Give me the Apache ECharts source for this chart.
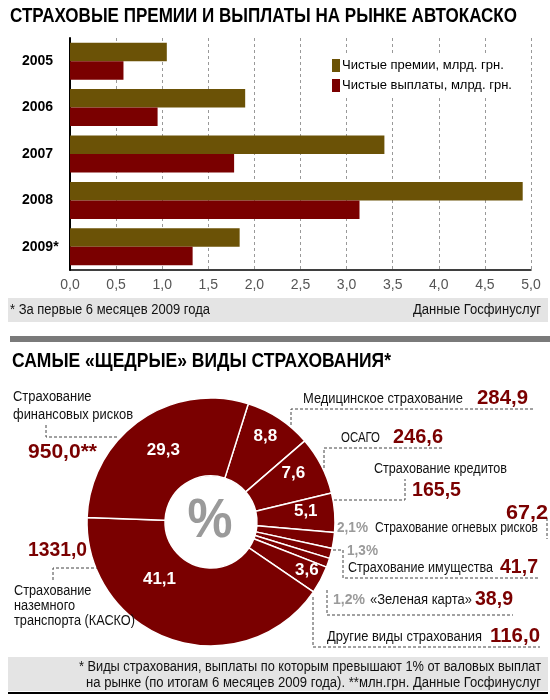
<!DOCTYPE html>
<html>
<head>
<meta charset="utf-8">
<script src="https://cdn.jsdelivr.net/npm/echarts@6/dist/echarts.min.js"></script>
<style>
  html, body { margin: 0; padding: 0; background: #fff; }
  #chart { width: 550px; height: 700px; }
</style>
</head>
<body>
<div id="chart"></div>
<script>
// --- данные: премии и выплаты автокаско, млрд. грн.
var years = ['2005', '2006', '2007', '2008', '2009*'];
var premiums = [1.05, 1.90, 3.41, 4.91, 1.84];
var payments = [0.58, 0.95, 1.78, 3.14, 1.33];

// --- данные: виды страхования (доля в %, выплаты млн. грн.)
var pieNames = ['Медицинское страхование', 'ОСАГО', 'Страхование кредитов', 'Страхование огневых рисков',
  'Страхование имущества', '«Зеленая карта»', 'Другие виды страхования',
  'Страхование\nназемного\nтранспорта (КАСКО)', 'Страхование\nфинансовых рисков'];
var pieShares = [8.8, 7.6, 5.1, 2.1, 1.3, 1.2, 3.6, 41.1, 29.3];
var pieAmounts = [284.9, 246.6, 165.5, 67.2, 41.7, 38.9, 116.0, 1331.0, 950.0];

var FN = '"Liberation Sans", Arial, sans-serif';
var RED = '#7a0000';
var OLIVE = '#6b5206';

// сдвиг подписей внутри круга (как в макете)
var labelShift = [[6, -12], [4, -8], [7, -4], [0, 0], [0, 0], [0, 0], [18, 7], [-24, -26], [3, 0]];

function fmt(v) { return v.toFixed(1).replace('.', ','); }

var measureCtx = document.createElement('canvas').getContext('2d');
function widthOf(text, font) {
    measureCtx.font = font;
    var m = 0;
    text.split('\n').forEach(function (l) { m = Math.max(m, measureCtx.measureText(l).width); });
    return m;
}

var myChart = echarts.init(document.getElementById('chart'));

// текст, ужатый по ширине до w (шрифт в макете узкий)
function txt(x, y, text, size, opts) {
    opts = opts || {};
    var font = (opts.weight || 'normal') + ' ' + size + 'px ' + FN;
    var sx = opts.w ? opts.w / widthOf(text, font) : 0.8;
    return {
        type: 'text', x: x, y: y, z: 20, scaleX: sx,
        style: {
            text: text,
            font: font,
            fill: opts.color || '#111',
            align: opts.align || 'left',
            verticalAlign: 'middle',
            lineHeight: opts.lh || size + 2
        }
    };
}
function val(x, y, v, w, suffix, align) {
    return txt(x, y, fmt(v) + (suffix || ''), 20, { weight: 'bold', color: RED, w: w, align: align });
}
function pct(x, y, v, w) {
    return txt(x, y, fmt(v) + '%', 14, { weight: 'bold', color: '#9a9a9a', w: w });
}
function dash(points) {
    return {
        type: 'polyline', z: 15,
        shape: { points: points },
        style: { stroke: '#444', lineWidth: 1, lineDash: [3, 2], fill: null }
    };
}
function box(x, y, w, h, color) {
    return { type: 'rect', z: 1, shape: { x: x, y: y, width: w, height: h }, style: { fill: color } };
}

var graphics = [
    // заголовки
    txt(10, 16, 'СТРАХОВЫЕ ПРЕМИИ И ВЫПЛАТЫ НА РЫНКЕ АВТОКАСКО', 21, { weight: 'bold', color: '#000', w: 507 }),
    box(8, 298, 540, 24, '#e4e4e4'),
    txt(10, 310, '* За первые 6 месяцев 2009 года', 14, { w: 200 }),
    txt(541, 310, 'Данные Госфинуслуг', 14, { align: 'right', w: 128 }),
    box(10, 336, 540, 6, '#7a7a7a'),
    txt(12, 361, 'САМЫЕ «ЩЕДРЫЕ» ВИДЫ СТРАХОВАНИЯ*', 21, { weight: 'bold', color: '#000', w: 379 }),
    // центр круга
    txt(210, 522, '%', 56, { align: 'center', color: '#9a9a9a', weight: 'bold', w: 45 }),

    // подписи справа
    txt(303, 399, pieNames[0], 14, { w: 160 }),
    val(477, 398, pieAmounts[0], 51),
    dash([[291, 425], [291, 409], [533, 409]]),

    txt(341, 438, pieNames[1], 14, { w: 39 }),
    val(393, 437, pieAmounts[1], 50),
    dash([[324, 468], [324, 448], [443, 448]]),

    txt(374, 469, pieNames[2], 14, { w: 133 }),
    val(412, 490, pieAmounts[2], 49),
    dash([[334, 500], [405, 500], [405, 479]]),

    val(548, 513, pieAmounts[3], 42, '', 'right'),
    pct(337, 528, pieShares[3], 31),
    txt(375, 528, pieNames[3], 14, { w: 163 }),
    dash([[547, 518], [547, 539]]),

    pct(347, 551, pieShares[4], 31),
    txt(348, 568, pieNames[4], 14, { w: 145 }),
    val(500, 567, pieAmounts[4], 38),
    dash([[333, 550], [343, 550], [343, 578], [540, 578]]),

    pct(333, 600, pieShares[5], 32),
    txt(370, 600, pieNames[5], 14, { w: 102 }),
    val(475, 599, pieAmounts[5], 38),
    dash([[327, 590], [327, 615], [513, 615]]),

    txt(327, 637, pieNames[6], 14, { w: 155 }),
    val(490, 636, pieAmounts[6], 50),
    dash([[313, 597], [313, 647], [540, 647]]),

    // подписи слева
    txt(13, 406, pieNames[8], 14, { lh: 18, w: 120 }),
    dash([[46, 425], [46, 437], [117, 437]]),
    val(28, 452, pieAmounts[8], 69, '**'),

    val(28, 550, pieAmounts[7], 59),
    dash([[53, 580], [53, 568], [97, 568]]),
    txt(14, 606, pieNames[7], 14, { lh: 15, w: 121 }),

    // сноска
    box(8, 657, 540, 34, '#e4e4e4'),
    txt(541, 667, '* Виды страхования, выплаты по которым превышают 1% от валовых выплат', 14, { align: 'right', w: 462 }),
    txt(541, 683, 'на рынке (по итогам 6 месяцев 2009 года). **млн.грн. Данные Госфинуслуг', 14, { align: 'right', w: 455 }),
    { type: 'rect', z: 2, shape: { x: 8, y: 692, width: 540, height: 2 }, style: { fill: '#000' } }
];

var option = {
    animation: false,
    backgroundColor: '#fff',
    textStyle: { fontFamily: FN },
    legend: {
        orient: 'vertical',
        left: 328,
        top: 55,
        itemWidth: 8,
        itemHeight: 13,
        itemGap: 7,
        icon: 'rect',
        backgroundColor: '#fff',
        padding: [4, 6, 4, 4],
        textStyle: { fontFamily: FN, fontSize: 13, color: '#000', padding: [0, 0, 0, -3] },
        data: ['Чистые премии, млрд. грн.', 'Чистые выплаты, млрд. грн.']
    },
    grid: { left: 70, right: 19, top: 38, bottom: 430 },
    xAxis: {
        type: 'value',
        min: 0,
        max: 5,
        interval: 0.5,
        axisLine: { show: true, lineStyle: { color: '#000', width: 1.5 } },
        axisTick: { show: false },
        axisLabel: {
            margin: 8,
            fontSize: 14,
            color: '#555',
            fontFamily: FN,
            formatter: function (v) { return fmt(v); }
        },
        splitLine: { show: true, lineStyle: { color: '#999', type: [3, 3], width: 1 } }
    },
    yAxis: {
        type: 'category',
        inverse: true,
        data: years,
        axisLine: { show: true, lineStyle: { color: '#000', width: 2 } },
        axisTick: { show: false },
        axisLabel: {
            align: 'left',
            margin: 48,
            fontSize: 14,
            fontWeight: 'bold',
            color: '#000',
            fontFamily: FN
        }
    },
    series: [
        {
            name: 'Чистые премии, млрд. грн.',
            type: 'bar',
            data: premiums,
            barWidth: 18.5,
            barGap: 0,
            itemStyle: { color: OLIVE }
        },
        {
            name: 'Чистые выплаты, млрд. грн.',
            type: 'bar',
            data: payments,
            barWidth: 18.5,
            barGap: 0,
            itemStyle: { color: RED }
        },
        {
            name: 'Виды страхования',
            type: 'pie',
            center: [211, 522],
            radius: [46, 124],
            startAngle: 72.5,
            clockwise: true,
            avoidLabelOverlap: false,
            itemStyle: { color: RED, borderColor: '#fff', borderWidth: 1.5 },
            labelLine: { show: false },
            emphasis: { disabled: true },
            labelLayout: function (p) {
                var s = labelShift[p.dataIndex];
                return { dx: s[0], dy: s[1] };
            },
            data: pieShares.map(function (v, i) {
                return {
                    name: pieNames[i],
                    value: v,
                    label: {
                        show: v >= 3,
                        position: 'inside',
                        color: '#fff',
                        fontWeight: 'bold',
                        fontSize: 17,
                        fontFamily: FN,
                        formatter: function (p) { return fmt(p.value); }
                    }
                };
            })
        }
    ],
    graphic: graphics
};

myChart.setOption(option);
</script>
</body>
</html>
